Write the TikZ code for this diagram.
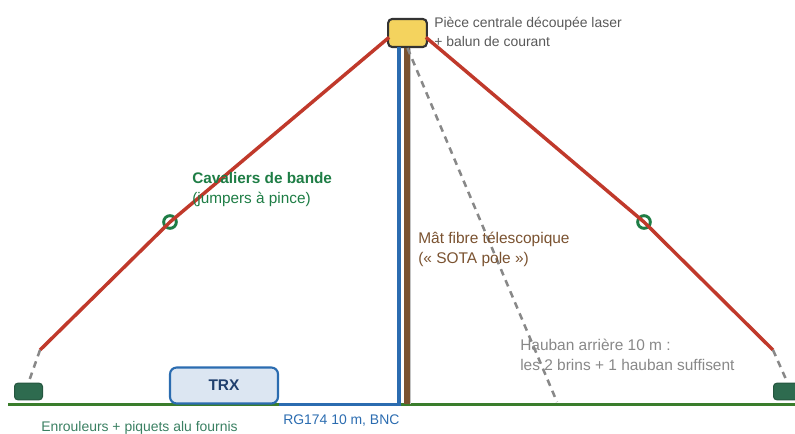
\documentclass[tikz,border=0pt]{standalone}
\usepackage{xcolor}
\usepackage{fontspec}
\setmainfont{Liberation Sans}
\usetikzlibrary{positioning, shapes, arrows.meta}
\definecolor{wirered}{HTML}{C0392B}
\definecolor{coaxblue}{HTML}{2B6CB0}
\definecolor{trxtext}{HTML}{1F3F6E}
\definecolor{mastbrown}{HTML}{7A5230}
\definecolor{groundgreen}{HTML}{3A7D2C}
\definecolor{jumpergreen}{HTML}{1E7D45}
\definecolor{reelgreen}{HTML}{2E6B4F}
\definecolor{reeltext}{HTML}{3A8062}
\definecolor{hubyellow}{HTML}{F4D35E}
\definecolor{trxfill}{HTML}{DCE6F2}
\definecolor{guygray}{HTML}{888888}
\begin{document}
\begin{tikzpicture}[
        x=0.75pt, y=-0.75pt,
        every node/.style={align=left},
        hub/.style={rectangle, draw=black!80, line width=1.6pt, fill=hubyellow, rounded corners=3pt, minimum width=29pt, minimum height=21pt, inner sep=0pt},
        trxbox/.style={rectangle, draw=coaxblue, line width=1.6pt, fill=trxfill, rounded corners=5pt, minimum width=81pt, minimum height=27pt, inner sep=0pt},
        reel/.style={rectangle, draw=reelgreen!80!black, line width=0.75pt, fill=reelgreen, rounded corners=2.5pt, minimum width=21pt, minimum height=12.5pt, inner sep=0pt},
        jumper/.style={circle, draw=jumpergreen, line width=2.2pt, minimum size=9.5pt, inner sep=0pt},
        wire/.style={wirered, line width=2.6pt, line join=round},
        guy/.style={guygray, line width=1.9pt, dash pattern=on 5pt off 4pt},
        note/.style={anchor=north west, inner sep=0pt},
        small/.style={font=\fontsize{10.45pt}{14.4pt}\selectfont},
        large/.style={font=\fontsize{11.6pt}{15pt}\selectfont}
    ]
    \useasboundingbox (0,0) rectangle (795,433);

    % Ground and mast
    \coordinate (groundL) at (8,404.5);
    \coordinate (groundR) at (795,404.5);
    \draw[groundgreen, line width=2.4pt] (groundL) -- (groundR);
    \node[hub] (hub) at (407.5,33) {};
    \coordinate (mastfoot) at (407,404);
    \coordinate (guyfoot) at (557,402);
    \coordinate (coaxtop) at (399,47);
    \coordinate (endL) at (40,350);
    \coordinate (endR) at (773,350);
    \draw[guygray!50, line width=4.5pt] ([xshift=0.75pt]hub.south -| mastfoot) -- ([xshift=0.75pt]mastfoot);
    \draw[mastbrown, line width=4.5pt] (hub.south -| mastfoot) -- (mastfoot);

    % Equipment
    \node[trxbox, large, text=trxtext] (trx) at (224,385.5) {\textbf{TRX}};
    \node[reel] (reelL) at (28.5,391.5) {};
    \node[reel] (reelR) at (787.5,391.5) {};
    \node[jumper] (jumperL) at (170,222) {};
    \node[jumper] (jumperR) at (644,222) {};

    % Lines
    \draw[coaxblue, line width=2.4pt] (trx.south east) -| (coaxtop);
    \draw[wire] ([xshift=1.5pt]hub.192) -- (jumperL.center) -- (endL);
    \draw[wire] ([xshift=-1.5pt]hub.-12) -- (jumperR.center) -- (endR);
    \draw[guy] (endL) -- (reelL.north);
    \draw[guy] (endR) -- (reelR.north);
    \draw[guy] (hub.south) -- (guyfoot);

    % Labels
    \node[note, small, text=black!65] (hublabel) at (434,16.5) {Pièce centrale découpée laser\\+ balun de courant};
    \node[note, font=\fontsize{11.5pt}{15pt}\selectfont, text=jumpergreen] (jumperlabel) at (192,172.5) {\textbf{Cavaliers de bande}\\(jumpers à pince)};
    \node[note, large, text=mastbrown] (mastlabel) at (418,231.5) {Mât fibre télescopique\\(« SOTA pole »)};
    \node[note, large, text=guygray] (guylabel) at (520,338.5) {Hauban arrière 10 m :\\les 2 brins + 1 hauban suffisent};
    \node[note, small, text=coaxblue] (coaxlabel) at (283,414) {RG174 10 m, BNC};
    \node[note, small, text=reeltext] (reellabel) at (41,421) {Enrouleurs + piquets alu fournis};

\end{tikzpicture}
\end{document}
